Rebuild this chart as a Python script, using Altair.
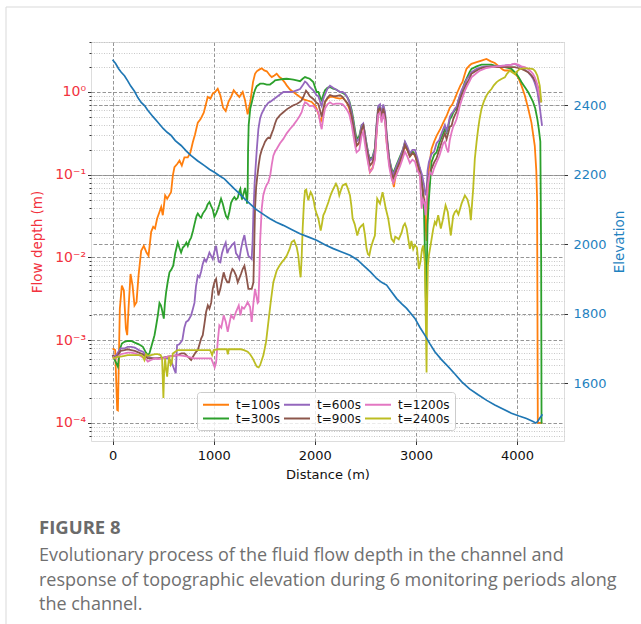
import altair as alt
import pandas as pd

# ---------------- data ----------------
# distance along channel (m) and log10 of flow depth (m) for each monitoring time
t100_x = [0, 26, 46, 53, 72, 92, 112, 132, 145, 158, 178, 198, 217, 237, 257, 283, 309, 336, 356, 382, 402, 420, 441, 464, 481, 497, 520, 540, 560, 579, 596, 612, 639, 662, 685, 711, 744, 770, 793, 816, 843, 869, 902, 925, 941, 968, 991, 1014, 1040, 1066, 1093, 1119, 1146, 1172, 1198, 1224, 1254, 1287, 1310, 1336, 1362, 1389, 1409, 1426, 1450, 1475, 1500, 1525, 1557, 1574, 1600, 1623, 1650, 1673, 1700, 1722, 1755, 1788, 1820, 1854, 1890, 1920, 1969, 2000, 2018, 2040, 2058, 2080, 2101, 2125, 2150, 2180, 2210, 2249, 2275, 2298, 2320, 2341, 2365, 2381, 2400, 2413, 2440, 2460, 2479, 2495, 2512, 2530, 2545, 2570, 2594, 2610, 2627, 2645, 2660, 2677, 2695, 2710, 2735, 2759, 2782, 2808, 2835, 2858, 2875, 2891, 2915, 2940, 2973, 3000, 3039, 3070, 3090, 3105, 3115, 3128, 3154, 3180, 3204, 3240, 3270, 3303, 3335, 3360, 3385, 3411, 3440, 3460, 3484, 3500, 3530, 3549, 3600, 3648, 3697, 3740, 3780, 3829, 3860, 3879, 3944, 3980, 4010, 4043, 4076, 4110, 4142, 4175, 4190, 4198, 4205, 4250]
t100_lg = [-3.10, -3.12, -3.845, -3.85, -2.62, -2.34, -2.40, -2.86, -2.94, -2.62, -2.20, -2.34, -2.58, -2.54, -2.22, -1.92, -1.86, -1.94, -1.98, -1.69, -1.63, -1.65, -1.53, -1.45, -1.39, -1.49, -1.25, -1.29, -1.25, -1.21, -1.01, -0.91, -0.87, -0.83, -0.89, -0.79, -0.79, -0.73, -0.61, -0.51, -0.37, -0.33, -0.25, -0.14, -0.06, -0.08, -0.02, 0.0, 0.04, -0.04, -0.19, -0.23, -0.12, -0.06, 0.02, -0.02, -0.06, 0.0, -0.10, -0.27, -0.12, 0.12, 0.22, 0.25, 0.27, 0.285, 0.26, 0.25, 0.20, 0.18, 0.20, 0.22, 0.18, 0.16, 0.12, 0.08, 0.03, 0.0, -0.03, -0.06, -0.09, -0.10, -0.12, -0.16, -0.20, -0.28, -0.37, -0.25, -0.12, -0.08, -0.06, -0.06, -0.07, -0.08, -0.07, -0.10, -0.14, -0.20, -0.33, -0.45, -0.58, -0.65, -0.62, -0.48, -0.39, -0.52, -0.69, -0.85, -0.97, -0.92, -0.80, -0.50, -0.23, -0.20, -0.34, -0.19, -0.30, -0.60, -0.85, -1.01, -1.15, -0.93, -0.88, -0.82, -0.75, -0.65, -0.70, -0.78, -0.73, -0.80, -1.01, -1.20, -1.50, -1.80, -1.30, -0.93, -0.69, -0.60, -0.53, -0.45, -0.37, -0.29, -0.19, -0.15, -0.08, 0.0, 0.08, 0.12, 0.22, 0.28, 0.32, 0.34, 0.36, 0.38, 0.40, 0.37, 0.35, 0.30, 0.27, 0.26, 0.26, 0.22, 0.18, 0.08, -0.04, -0.20, -0.37, -0.65, -0.95, -1.30, -4.0, -4.0]

t300_x = [0, 26, 53, 70, 92, 118, 150, 184, 220, 260, 300, 330, 349, 365, 390, 415, 432, 448, 464, 478, 487, 500, 507, 518, 530, 545, 563, 580, 600, 620, 645, 660, 678, 695, 711, 730, 744, 760, 777, 795, 810, 830, 843, 860, 876, 892, 910, 925, 940, 958, 975, 991, 1007, 1024, 1040, 1056, 1073, 1090, 1106, 1122, 1139, 1155, 1172, 1188, 1205, 1221, 1238, 1254, 1264, 1280, 1297, 1310, 1322, 1330, 1336, 1340, 1346, 1362, 1378, 1393, 1410, 1426, 1459, 1492, 1525, 1557, 1590, 1607, 1650, 1689, 1722, 1755, 1788, 1821, 1854, 1880, 1903, 1925, 1950, 1985, 2018, 2035, 2058, 2068, 2085, 2101, 2125, 2150, 2180, 2210, 2249, 2275, 2298, 2320, 2341, 2365, 2381, 2400, 2413, 2440, 2463, 2479, 2495, 2512, 2530, 2545, 2570, 2594, 2610, 2627, 2645, 2660, 2677, 2695, 2710, 2735, 2759, 2776, 2808, 2842, 2870, 2891, 2915, 2940, 2965, 2990, 3015, 3039, 3060, 3079, 3090, 3098, 3105, 3115, 3128, 3154, 3180, 3204, 3230, 3253, 3270, 3286, 3303, 3319, 3335, 3352, 3368, 3385, 3401, 3420, 3451, 3484, 3500, 3530, 3549, 3600, 3648, 3697, 3747, 3800, 3829, 3879, 3920, 3944, 3977, 3994, 4020, 4043, 4076, 4109, 4142, 4158, 4180, 4201, 4215, 4230, 4238, 4242, 4250]
t300_lg = [-3.18, -3.25, -3.32, -3.12, -3.04, -3.02, -3.01, -3.01, -3.03, -3.05, -3.08, -3.15, -3.18, -3.16, -3.05, -2.94, -2.82, -2.70, -2.55, -2.58, -2.62, -2.70, -2.74, -2.55, -2.42, -2.30, -2.18, -2.15, -2.10, -1.95, -1.82, -1.88, -1.94, -1.88, -1.86, -1.82, -1.86, -1.80, -1.76, -1.68, -1.60, -1.50, -1.47, -1.50, -1.52, -1.47, -1.44, -1.41, -1.36, -1.33, -1.38, -1.42, -1.51, -1.47, -1.42, -1.36, -1.29, -1.35, -1.43, -1.50, -1.53, -1.45, -1.34, -1.30, -1.27, -1.30, -1.28, -1.20, -1.17, -1.30, -1.22, -1.16, -1.25, -1.35, -1.20, -0.70, -0.40, -0.20, -0.12, -0.04, 0.03, 0.07, 0.10, 0.10, 0.09, 0.09, 0.12, 0.14, 0.15, 0.157, 0.16, 0.155, 0.15, 0.14, 0.13, 0.16, 0.18, 0.17, 0.16, 0.12, 0.0, 0.0, -0.08, -0.10, -0.03, 0.02, 0.05, 0.06, 0.04, 0.03, 0.0, -0.01, -0.03, -0.06, -0.11, -0.22, -0.33, -0.48, -0.57, -0.53, -0.40, -0.39, -0.50, -0.63, -0.75, -0.81, -0.79, -0.68, -0.42, -0.19, -0.17, -0.29, -0.17, -0.27, -0.53, -0.80, -0.93, -0.98, -0.88, -0.78, -0.70, -0.61, -0.68, -0.76, -0.72, -0.75, -0.85, -0.93, -1.10, -1.40, -2.00, -2.50, -2.30, -1.60, -1.30, -0.85, -0.76, -0.73, -0.62, -0.55, -0.50, -0.45, -0.49, -0.42, -0.33, -0.30, -0.25, -0.22, -0.20, -0.10, 0.0, 0.12, 0.16, 0.24, 0.28, 0.31, 0.33, 0.33, 0.33, 0.31, 0.31, 0.30, 0.29, 0.28, 0.24, 0.22, 0.17, 0.12, 0.06, 0.0, -0.08, -0.12, -0.20, -0.33, -0.45, -0.60, -2.00, -4.0, -4.0]

t600_x = [0, 26, 53, 80, 118, 150, 184, 220, 260, 300, 330, 349, 400, 448, 500, 546, 580, 612, 625, 632, 638, 660, 690, 710, 727, 750, 777, 795, 810, 825, 843, 860, 876, 892, 909, 925, 942, 958, 975, 991, 1007, 1024, 1035, 1050, 1066, 1082, 1099, 1119, 1135, 1150, 1165, 1180, 1205, 1221, 1238, 1254, 1270, 1287, 1304, 1320, 1343, 1360, 1376, 1385, 1393, 1405, 1415, 1426, 1442, 1459, 1475, 1508, 1541, 1557, 1590, 1623, 1656, 1689, 1722, 1755, 1788, 1821, 1854, 1880, 1903, 1920, 1950, 1985, 2018, 2035, 2058, 2068, 2085, 2101, 2125, 2150, 2180, 2210, 2249, 2275, 2298, 2320, 2341, 2365, 2381, 2400, 2413, 2440, 2463, 2479, 2495, 2512, 2530, 2545, 2570, 2594, 2610, 2627, 2645, 2660, 2677, 2695, 2710, 2735, 2759, 2776, 2808, 2842, 2870, 2891, 2915, 2940, 2965, 2990, 3015, 3039, 3060, 3079, 3095, 3105, 3115, 3128, 3154, 3180, 3204, 3230, 3253, 3270, 3286, 3303, 3319, 3335, 3352, 3368, 3385, 3401, 3420, 3434, 3451, 3484, 3500, 3530, 3549, 3600, 3648, 3697, 3747, 3800, 3879, 3944, 3977, 4010, 4043, 4076, 4109, 4142, 4158, 4175, 4190, 4201, 4224, 4247]
t600_lg = [-3.18, -3.20, -3.15, -3.10, -3.10, -3.08, -3.08, -3.09, -3.12, -3.14, -3.18, -3.20, -3.22, -3.22, -3.22, -3.22, -3.25, -3.36, -3.40, -3.20, -3.06, -3.05, -3.00, -2.85, -2.78, -2.76, -2.70, -2.62, -2.55, -2.35, -2.22, -2.24, -2.17, -2.08, -2.02, -2.05, -2.00, -1.94, -1.98, -2.02, -1.93, -1.86, -1.95, -2.05, -2.06, -1.95, -1.88, -1.82, -1.95, -1.90, -1.88, -1.85, -1.82, -1.95, -1.98, -2.02, -1.90, -1.80, -1.73, -1.85, -1.98, -2.00, -2.02, -1.80, -1.45, -1.10, -0.90, -0.70, -0.45, -0.32, -0.26, -0.18, -0.13, -0.12, -0.09, -0.06, -0.03, 0.0, 0.0, 0.0, 0.004, 0.02, 0.036, 0.08, 0.125, 0.11, 0.06, 0.02, -0.04, -0.05, -0.14, -0.17, -0.08, -0.03, 0.04, 0.077, 0.05, 0.03, 0.0, 0.0, -0.02, -0.06, -0.12, -0.25, -0.37, -0.52, -0.60, -0.56, -0.40, -0.38, -0.50, -0.64, -0.76, -0.83, -0.80, -0.70, -0.40, -0.17, -0.15, -0.28, -0.15, -0.25, -0.50, -0.80, -0.95, -1.00, -0.90, -0.80, -0.70, -0.60, -0.66, -0.74, -0.70, -0.70, -0.80, -0.92, -1.00, -1.12, -1.25, -1.20, -0.95, -0.85, -0.75, -0.72, -0.62, -0.58, -0.50, -0.45, -0.40, -0.47, -0.40, -0.30, -0.26, -0.24, -0.20, -0.18, -0.10, -0.04, 0.02, 0.10, 0.15, 0.20, 0.24, 0.28, 0.30, 0.31, 0.31, 0.31, 0.32, 0.33, 0.34, 0.32, 0.30, 0.27, 0.24, 0.19, 0.16, 0.11, 0.05, 0.0, -0.18, -0.41]

t900_x = [0, 26, 53, 80, 118, 150, 184, 220, 260, 300, 330, 349, 400, 448, 500, 546, 600, 645, 680, 711, 744, 777, 795, 820, 843, 860, 876, 892, 909, 925, 942, 958, 975, 991, 1007, 1024, 1035, 1047, 1066, 1082, 1099, 1115, 1135, 1152, 1168, 1185, 1200, 1221, 1238, 1254, 1270, 1287, 1304, 1320, 1343, 1360, 1376, 1393, 1402, 1409, 1420, 1432, 1445, 1459, 1475, 1492, 1508, 1525, 1541, 1557, 1574, 1590, 1607, 1623, 1656, 1689, 1722, 1755, 1788, 1821, 1854, 1870, 1890, 1913, 1930, 1950, 1985, 2018, 2035, 2058, 2068, 2085, 2101, 2125, 2150, 2180, 2210, 2249, 2275, 2298, 2320, 2341, 2365, 2381, 2400, 2413, 2440, 2463, 2479, 2495, 2512, 2530, 2545, 2570, 2594, 2610, 2627, 2645, 2660, 2677, 2695, 2710, 2735, 2759, 2776, 2808, 2842, 2870, 2891, 2915, 2940, 2965, 2990, 3015, 3039, 3060, 3079, 3095, 3105, 3115, 3128, 3154, 3180, 3204, 3230, 3253, 3270, 3286, 3303, 3319, 3335, 3352, 3368, 3385, 3401, 3420, 3434, 3451, 3484, 3500, 3530, 3549, 3600, 3648, 3697, 3747, 3800, 3879, 3944, 3977, 4010, 4043, 4076, 4109, 4142, 4158, 4175, 4190, 4201, 4220, 4234]
t900_lg = [-3.18, -3.22, -3.18, -3.13, -3.12, -3.11, -3.12, -3.13, -3.15, -3.17, -3.20, -3.22, -3.22, -3.22, -3.21, -3.20, -3.19, -3.18, -3.16, -3.16, -3.20, -3.24, -3.20, -3.15, -3.12, -3.05, -2.98, -2.94, -2.80, -2.66, -2.58, -2.62, -2.55, -2.38, -2.30, -2.26, -2.36, -2.46, -2.38, -2.28, -2.18, -2.25, -2.30, -2.30, -2.20, -2.14, -2.16, -2.22, -2.30, -2.25, -2.20, -2.14, -2.10, -2.20, -2.38, -2.38, -2.38, -2.30, -1.80, -1.41, -1.15, -1.01, -0.88, -0.77, -0.70, -0.65, -0.60, -0.57, -0.55, -0.56, -0.50, -0.45, -0.38, -0.33, -0.28, -0.245, -0.21, -0.185, -0.16, -0.145, -0.12, -0.10, -0.05, 0.016, -0.01, -0.05, -0.084, -0.13, -0.145, -0.25, -0.30, -0.20, -0.12, -0.07, -0.036, -0.05, -0.05, -0.04, -0.06, -0.10, -0.13, -0.18, -0.30, -0.42, -0.56, -0.65, -0.61, -0.45, -0.41, -0.55, -0.68, -0.80, -0.89, -0.85, -0.74, -0.46, -0.21, -0.20, -0.31, -0.20, -0.30, -0.55, -0.85, -0.99, -1.04, -0.94, -0.84, -0.74, -0.64, -0.70, -0.78, -0.74, -0.76, -0.86, -0.97, -1.12, -1.30, -1.41, -1.35, -1.10, -1.00, -0.93, -0.85, -0.80, -0.70, -0.61, -0.55, -0.50, -0.57, -0.50, -0.42, -0.41, -0.33, -0.28, -0.24, -0.16, -0.10, -0.04, 0.056, 0.10, 0.16, 0.22, 0.26, 0.29, 0.30, 0.31, 0.30, 0.30, 0.30, 0.30, 0.29, 0.278, 0.26, 0.24, 0.20, 0.177, 0.14, 0.11, 0.077, -0.02, -0.125]

t1200_x = [0, 26, 53, 80, 118, 150, 184, 220, 260, 300, 330, 349, 380, 420, 448, 500, 546, 600, 645, 700, 744, 800, 860, 920, 975, 995, 1010, 1024, 1040, 1056, 1075, 1099, 1120, 1139, 1155, 1172, 1198, 1220, 1248, 1265, 1280, 1300, 1320, 1336, 1360, 1376, 1393, 1409, 1420, 1435, 1442, 1452, 1459, 1475, 1490, 1508, 1525, 1541, 1560, 1574, 1590, 1607, 1623, 1656, 1689, 1722, 1755, 1788, 1821, 1850, 1870, 1890, 1903, 1925, 1950, 1985, 2018, 2035, 2058, 2068, 2085, 2101, 2125, 2150, 2180, 2210, 2249, 2275, 2298, 2320, 2341, 2365, 2381, 2400, 2413, 2440, 2463, 2479, 2495, 2512, 2530, 2545, 2570, 2594, 2610, 2627, 2645, 2660, 2677, 2695, 2710, 2735, 2759, 2776, 2808, 2842, 2870, 2891, 2915, 2940, 2965, 2990, 3015, 3039, 3056, 3070, 3085, 3095, 3105, 3120, 3138, 3160, 3180, 3204, 3230, 3253, 3270, 3286, 3303, 3319, 3335, 3352, 3368, 3385, 3401, 3420, 3434, 3451, 3484, 3500, 3530, 3549, 3600, 3632, 3697, 3747, 3800, 3879, 3944, 3977, 4010, 4043, 4076, 4109, 4142, 4158, 4175, 4190, 4201, 4220, 4240]
t1200_lg = [-3.20, -3.22, -3.20, -3.17, -3.16, -3.15, -3.15, -3.16, -3.18, -3.21, -3.23, -3.26, -3.24, -3.22, -3.23, -3.22, -3.20, -3.19, -3.18, -3.19, -3.20, -3.22, -3.22, -3.22, -3.22, -3.28, -3.33, -3.27, -3.02, -2.82, -2.85, -2.70, -2.78, -2.90, -2.80, -2.70, -2.74, -2.66, -2.58, -2.70, -2.60, -2.62, -2.58, -2.54, -2.60, -2.78, -2.55, -2.38, -2.45, -2.55, -2.54, -2.20, -1.815, -1.41, -1.25, -1.17, -1.12, -1.09, -1.00, -0.88, -0.77, -0.72, -0.69, -0.62, -0.567, -0.50, -0.447, -0.40, -0.346, -0.29, -0.245, -0.16, -0.125, -0.14, -0.17, -0.165, -0.22, -0.245, -0.40, -0.45, -0.30, -0.20, -0.15, -0.125, -0.15, -0.14, -0.14, -0.15, -0.18, -0.22, -0.27, -0.40, -0.52, -0.66, -0.73, -0.70, -0.53, -0.48, -0.62, -0.76, -0.88, -0.97, -0.93, -0.82, -0.52, -0.27, -0.25, -0.37, -0.26, -0.36, -0.62, -0.90, -1.05, -1.10, -1.00, -0.90, -0.80, -0.72, -0.78, -0.86, -0.82, -0.84, -0.95, -1.00, -1.41, -1.30, -1.35, -1.49, -1.30, -1.10, -0.97, -1.00, -0.92, -0.85, -0.78, -0.69, -0.62, -0.60, -0.68, -0.73, -0.58, -0.49, -0.42, -0.38, -0.33, -0.24, -0.165, -0.10, 0.016, 0.06, 0.13, 0.177, 0.23, 0.258, 0.29, 0.30, 0.31, 0.318, 0.33, 0.342, 0.33, 0.31, 0.30, 0.278, 0.24, 0.218, 0.18, 0.13, 0.077, -0.03, -0.125]

t2400_x = [0, 26, 53, 80, 118, 150, 184, 220, 260, 283, 300, 315, 330, 349, 380, 420, 448, 475, 490, 497, 503, 510, 520, 530, 540, 550, 560, 575, 585, 596, 620, 645, 700, 777, 850, 941, 965, 985, 1000, 1040, 1100, 1130, 1140, 1150, 1200, 1271, 1300, 1336, 1360, 1386, 1410, 1426, 1445, 1460, 1492, 1518, 1541, 1564, 1590, 1623, 1650, 1673, 1700, 1722, 1750, 1771, 1795, 1821, 1837, 1850, 1860, 1870, 1880, 1892, 1903, 1915, 1925, 1936, 1948, 1959, 1975, 1990, 2002, 2020, 2035, 2058, 2070, 2084, 2100, 2117, 2135, 2150, 2165, 2183, 2209, 2225, 2242, 2260, 2275, 2290, 2308, 2325, 2348, 2362, 2374, 2395, 2420, 2440, 2460, 2479, 2495, 2512, 2525, 2539, 2555, 2575, 2594, 2605, 2617, 2630, 2645, 2670, 2685, 2700, 2726, 2745, 2759, 2782, 2795, 2808, 2830, 2858, 2875, 2891, 2908, 2924, 2940, 2955, 2973, 2990, 3010, 3029, 3045, 3060, 3072, 3088, 3098, 3105, 3110, 3118, 3128, 3145, 3171, 3187, 3200, 3220, 3246, 3265, 3293, 3315, 3330, 3345, 3368, 3385, 3401, 3420, 3451, 3484, 3510, 3530, 3543, 3555, 3566, 3582, 3600, 3615, 3630, 3648, 3670, 3697, 3720, 3747, 3770, 3796, 3820, 3845, 3879, 3900, 3928, 3950, 3977, 4000, 4026, 4060, 4093, 4130, 4158, 4180, 4201, 4224, 4240]
t2400_lg = [-3.22, -3.21, -3.20, -3.20, -3.19, -3.18, -3.18, -3.18, -3.18, -3.18, -3.20, -3.24, -3.17, -3.19, -3.18, -3.17, -3.17, -3.18, -3.22, -3.48, -3.70, -3.40, -3.22, -3.35, -3.44, -3.30, -3.20, -3.30, -3.28, -3.16, -3.14, -3.12, -3.12, -3.12, -3.12, -3.12, -3.12, -3.18, -3.12, -3.11, -3.11, -3.11, -3.17, -3.11, -3.11, -3.11, -3.12, -3.14, -3.17, -3.22, -3.28, -3.32, -3.33, -3.30, -3.18, -3.02, -2.78, -2.54, -2.30, -2.16, -2.10, -2.06, -2.02, -1.98, -1.90, -1.815, -1.795, -1.875, -1.98, -2.15, -2.24, -2.00, -1.65, -1.35, -1.19, -1.18, -1.25, -1.31, -1.25, -1.21, -1.25, -1.32, -1.41, -1.48, -1.53, -1.675, -1.60, -1.49, -1.45, -1.39, -1.33, -1.27, -1.22, -1.17, -1.11, -1.15, -1.25, -1.18, -1.13, -1.12, -1.11, -1.16, -1.25, -1.38, -1.53, -1.60, -1.735, -1.65, -1.62, -1.60, -1.72, -1.896, -1.96, -1.976, -1.88, -1.80, -1.735, -1.50, -1.29, -1.32, -1.35, -1.21, -1.30, -1.40, -1.53, -1.68, -1.775, -1.815, -1.75, -1.76, -1.78, -1.70, -1.62, -1.59, -1.65, -1.775, -1.896, -1.80, -1.90, -1.85, -1.88, -2.14, -2.05, -1.90, -1.855, -2.06, -2.80, -3.39, -2.60, -2.10, -1.976, -1.85, -1.655, -1.57, -1.60, -1.49, -1.65, -1.55, -1.37, -1.45, -1.60, -1.735, -1.50, -1.45, -1.43, -1.48, -1.35, -1.25, -1.30, -1.40, -1.55, -1.35, -1.17, -0.81, -0.60, -0.447, -0.32, -0.205, -0.12, -0.044, 0.0, 0.036, 0.08, 0.117, 0.14, 0.157, 0.177, 0.22, 0.258, 0.24, 0.218, 0.25, 0.278, 0.285, 0.286, 0.283, 0.278, 0.25, 0.197, 0.077, -0.125]

# topographic elevation along the channel (m)
elev_x = [0, 30, 60, 86, 118, 150, 180, 217, 250, 283, 316, 350, 400, 448, 500, 540, 579, 620, 678, 730, 777, 840, 909, 960, 1007, 1060, 1106, 1150, 1205, 1250, 1304, 1360, 1419, 1459, 1510, 1557, 1620, 1689, 1770, 1854, 1940, 2018, 2100, 2183, 2260, 2348, 2420, 2480, 2550, 2611, 2660, 2710, 2760, 2809, 2860, 2908, 2950, 2990, 3040, 3088, 3140, 3187, 3250, 3319, 3385, 3451, 3530, 3615, 3700, 3780, 3860, 3944, 4020, 4093, 4158, 4185, 4200, 4220, 4240, 4250]
elev_z = [2531, 2520, 2505, 2495, 2485, 2470, 2455, 2440, 2422, 2408, 2399, 2385, 2367, 2351, 2333, 2322, 2313, 2298, 2284, 2268, 2255, 2240, 2226, 2215, 2207, 2196, 2188, 2175, 2159, 2147, 2131, 2116, 2100, 2092, 2082, 2073, 2063, 2054, 2042, 2030, 2020, 2011, 1998, 1987, 1978, 1968, 1955, 1939, 1920, 1901, 1890, 1882, 1862, 1843, 1828, 1815, 1800, 1786, 1760, 1738, 1712, 1690, 1668, 1647, 1626, 1604, 1583, 1566, 1550, 1537, 1525, 1513, 1505, 1498, 1489, 1485, 1488, 1497, 1505, 1510]

series_names = ["t=100s", "t=300s", "t=600s", "t=900s", "t=1200s", "t=2400s"]
series_colors = ["#ff7f0e", "#2ca02c", "#9467bd", "#8c564b", "#e377c2", "#bcbd22"]

caption_title = "FIGURE 8"
caption_lines = [
    "Evolutionary process of the fluid flow depth in the channel and",
    "response of topographic elevation during 6 monitoring periods along",
    "the channel.",
]

x_ticks = [0, 1000, 2000, 3000, 4000]
elev_ticks = [1600, 1800, 2000, 2200, 2400]
decades = [1e-4, 1e-3, 1e-2, 1e-1, 1.0]

# ---------------- build tables ----------------
rows = []
for name, xs, lgs in [("t=100s", t100_x, t100_lg), ("t=300s", t300_x, t300_lg),
                      ("t=600s", t600_x, t600_lg), ("t=900s", t900_x, t900_lg),
                      ("t=1200s", t1200_x, t1200_lg), ("t=2400s", t2400_x, t2400_lg)]:
    if len(xs) != len(lgs):
        raise ValueError(f"{name}: {len(xs)} x vs {len(lgs)} y")
    for x, lg in zip(xs, lgs):
        rows.append({"dist": x, "depth": 10 ** lg, "series": name})
flow_df = pd.DataFrame(rows)
if len(elev_x) != len(elev_z):
    raise ValueError(f"elev: {len(elev_x)} vs {len(elev_z)}")
elev_df = pd.DataFrame({"dist": elev_x, "elev": elev_z})

YMIN, YMAX = 6.04e-5, 4.02
minor = [k * 10.0 ** d for d in range(-5, 1) for k in range(2, 10) if YMIN <= k * 10.0 ** d <= YMAX]
y_values = decades + minor

W, H = 473, 399
PL, PT = 91, 42
RED = "#f2323e"
BLUE = "#1f82c0"
GRID = "#8a8a8a"
FONT = "DejaVu Sans"

is_decade = "abs(log(datum.value)/LN10 - round(log(datum.value)/LN10)) < 0.001"
exp = "round(log(datum.value)/LN10)"
label_expr = (f"{is_decade} ? ({exp} == 0 ? '10⁰' : {exp} == -1 ? '10⁻¹' : {exp} == -2 ? '10⁻²' : "
              f"{exp} == -3 ? '10⁻³' : '10⁻⁴') : ''")

x_enc = alt.X(
    "dist:Q",
    scale=alt.Scale(domain=[-213, 4464], nice=False, zero=False),
    axis=alt.Axis(values=x_ticks, format="d", title="Distance (m)", labelFont=FONT, labelFontSize=13,
                  labelColor="#111111", titleFont=FONT, titleFontSize=13, titleFontWeight="normal",
                  titleColor="#111111", titleY=37.5, titleBaseline="alphabetic", tickSize=3.5,
                  tickColor="#333333", labelPadding=5, domain=False, grid=True, gridDash=[3.5, 2],
                  gridColor=GRID, gridWidth=0.9),
)

flow = alt.Chart(flow_df).mark_line(strokeWidth=1.8, clip=True).encode(
    x=x_enc,
    y=alt.Y(
        "depth:Q",
        scale=alt.Scale(type="log", domain=[YMIN, YMAX], nice=False),
        axis=alt.Axis(
            orient="left", values=y_values, labelExpr=label_expr, labelOverlap=False,
            labelFont=FONT, labelFontSize=14, labelColor=RED, labelPadding=2,
            title="Flow depth (m)", titleFont=FONT, titleFontSize=13.5, titleFontWeight="normal",
            titleColor=RED, titleAngle=270, titleX=-54, titleY=H / 2, titleAlign="center",
            titleBaseline="middle", domain=False, tickColor="#333333",
            tickSize={"condition": {"test": is_decade, "value": 3.5}, "value": 2},
            grid=True,
            gridDash={"condition": {"test": is_decade, "value": [3.5, 2]}, "value": [1, 1.5]},
            gridColor={"condition": {"test": is_decade, "value": GRID}, "value": "#c2c2c2"},
            gridWidth=0.9,
        ),
    ),
    color=alt.Color(
        "series:N",
        scale=alt.Scale(domain=series_names, range=series_colors),
        legend=alt.Legend(
            orient="none", legendX=106, legendY=350, columns=3, title=None,
            symbolType="M-2,0L2,0", symbolSize=169, symbolStrokeWidth=2, symbolOffset=6.5,
            labelFont=FONT, labelFontSize=12, labelColor="#111111", labelOffset=12.5,
            padding=5, rowPadding=0, columnPadding=0,
            fillColor="rgba(255,255,255,0.8)", strokeColor="#cccccc", cornerRadius=3,
        ),
    ),
)

elev = alt.Chart(elev_df).mark_line(strokeWidth=1.7, color="#1f77b4", clip=True).encode(
    x=x_enc,
    y=alt.Y(
        "elev:Q",
        scale=alt.Scale(domain=[1433, 2582], nice=False, zero=False),
        axis=alt.Axis(
            orient="right", values=elev_ticks, format="d", labelFont=FONT, labelFontSize=13,
            labelColor=BLUE, labelPadding=5.5, tickSize=3.5, tickColor="#333333", domain=False,
            title="Elevation", titleFont=FONT, titleFontSize=13.5, titleFontWeight="normal",
            titleColor=BLUE, titleAngle=270, titleX=55.7, titleY=H / 2, titleAlign="center",
            titleBaseline="middle", grid=True, gridDash=[3.5, 2], gridColor=GRID, gridWidth=0.9,
        ),
    ),
)

one = pd.DataFrame({"k": [0]})
border = alt.Chart(one).mark_rect(fillOpacity=0, stroke="#d9d9d9", strokeWidth=1).encode(
    x=alt.value(6 - PL), x2=alt.value(800), y=alt.value(7 - PT), y2=alt.value(800)
)

fig_label = alt.Chart(pd.DataFrame({"t": [caption_title]})).mark_text(
    align="left", baseline="alphabetic", font="Open Sans", fontSize=18.5, fontWeight="bold", color="#6b6b6b"
).encode(x=alt.value(39 - PL), y=alt.value(534 - PT), text="t:N")

cap_layers = []
for i, line in enumerate(caption_lines):
    cap_layers.append(
        alt.Chart(pd.DataFrame({"t": [line]})).mark_text(
            align="left", baseline="alphabetic", font="Open Sans", fontSize=18, color="#707070"
        ).encode(x=alt.value(39 - PL), y=alt.value(561 + 24.5 * i - PT), text="t:N")
    )

chart = alt.layer(border, flow, elev, fig_label, *cap_layers).resolve_scale(
    y="independent"
).properties(
    width=W, height=H,
    autosize=alt.AutoSizeParams(type="none"),
    padding={"left": PL, "top": PT, "right": 641 - PL - W, "bottom": 624 - PT - H},
).configure_view(
    stroke="#262626", strokeWidth=1.1
).configure(background="white")

chart.save("out.html", embed_options={"renderer": "svg", "actions": False})
